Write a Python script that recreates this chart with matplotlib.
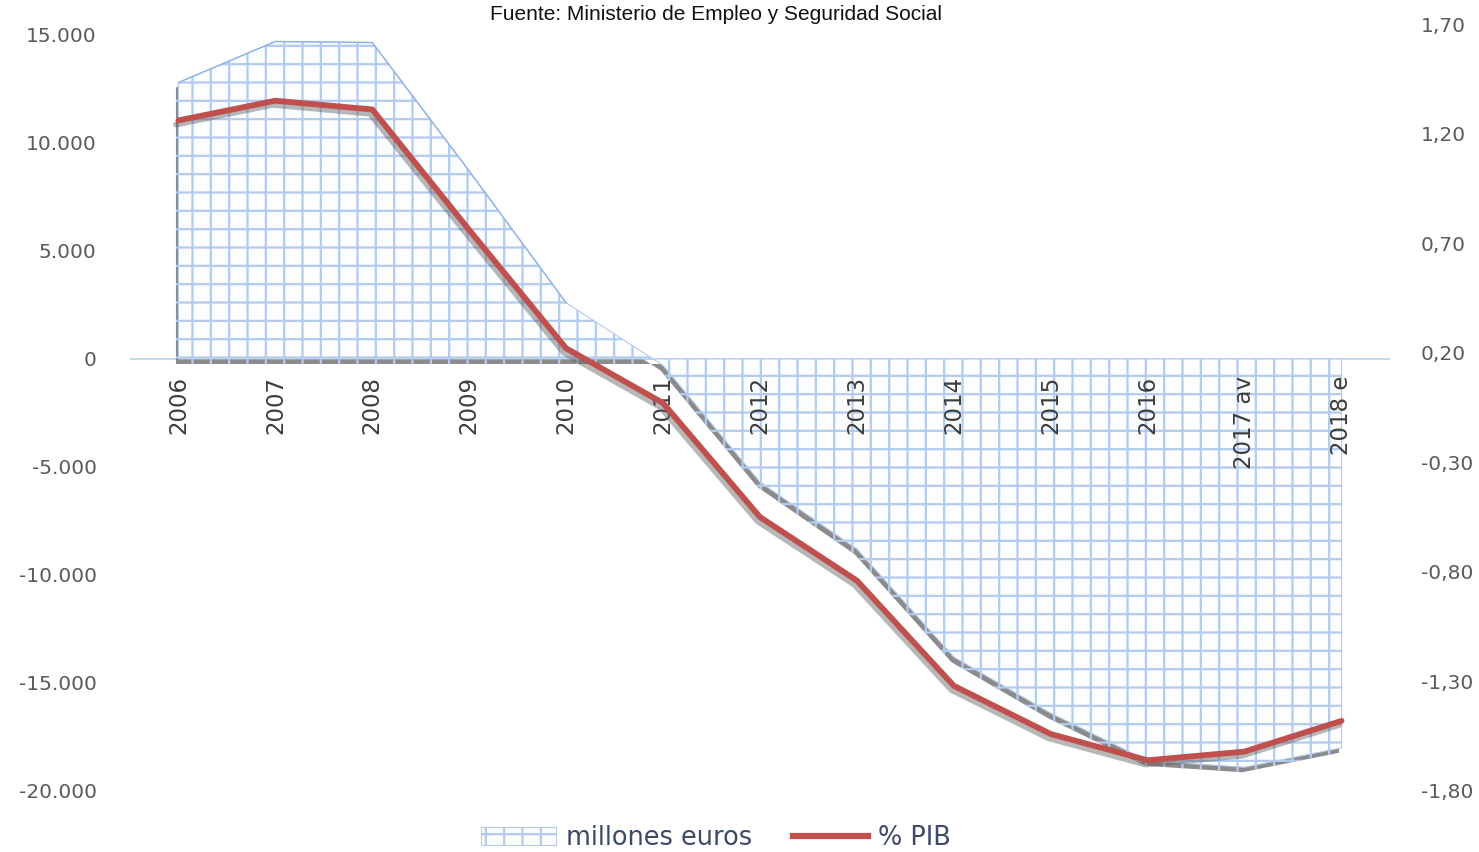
import numpy as np
import matplotlib
matplotlib.use("Agg")
import matplotlib.pyplot as plt
import matplotlib.patheffects as pe
from matplotlib.patches import Patch
from matplotlib.lines import Line2D
from matplotlib.ticker import FuncFormatter
from matplotlib.transforms import offset_copy

# ---------------- data ----------------
categories = ["2006", "2007", "2008", "2009", "2010", "2011", "2012",
              "2013", "2014", "2015", "2016", "2017 av", "2018 e"]
millones_euros = [12800, 14700, 14650, 8700, 2600, -300, -5700,
                  -8800, -13800, -16400, -18600, -18900, -18000]
pct_pib = [1.26, 1.35, 1.31, 0.76, 0.22, -0.03, -0.55,
           -0.84, -1.32, -1.54, -1.66, -1.62, -1.48]
left_ticks = [-20000, -15000, -10000, -5000, 0, 5000, 10000, 15000]
right_ticks = [-1.80, -1.30, -0.80, -0.30, 0.20, 0.70, 1.20, 1.70]
title_text = "Fuente: Ministerio de Empleo y Seguridad Social"
legend_labels = ["millones euros", "% PIB"]

# ---------------- style ----------------
DPI = 110
S = 100.0 / DPI          # keep sizes as if rendered at 100 dpi
plt.rcParams["font.family"] = ["DejaVu Sans"]
plt.rcParams["hatch.linewidth"] = 1.6 * S
hatch_col = "#b3cbee"
red = "#c0504d"
tick_col = "#5a5a5a"

W, H = 1479, 852
fig = plt.figure(figsize=(W / DPI, H / DPI), dpi=DPI)
ax = fig.add_axes([130 / W, 1 - 791 / H, (1390 - 130) / W, (791 - 24) / H])
ax2 = ax.twinx()

x = np.arange(len(categories))
y = np.array(millones_euros, dtype=float)

ax.axhline(0, color="#c2d4ee", lw=1.3 * S, zorder=0.5)

poly = ax.fill_between(x, 0, y, interpolate=True, facecolor="#fbfdff",
                       edgecolor=hatch_col, hatch="+", linewidth=0.8 * S, zorder=2)
poly.set_path_effects([pe.SimplePatchShadow(offset=(-1.8 * S, -3.6 * S),
                                            shadow_rgbFace="#5a5a5a", alpha=0.7),
                       pe.Normal()])
ax.plot(x[y >= 0], y[y >= 0], color="#8fb2e3", lw=1.0 * S, zorder=3)

ax.set_xlim(-0.5, len(categories) - 0.5)
ax.set_ylim(-20000, 15509)
ax.set_yticks(left_ticks)
ax.yaxis.set_major_formatter(FuncFormatter(lambda v, p: f"{int(round(v)):,}".replace(",", ".")))
ax.set_xticks([])

ax2.set_ylim(-1.80, 1.70)
ax2.set_yticks(right_ticks)
ax2.yaxis.set_major_formatter(FuncFormatter(lambda v, p: f"{v:.2f}".replace(".", ",")))
ax2.plot(x, pct_pib, color=red, lw=4.2 * S, solid_capstyle="round", zorder=5,
         path_effects=[pe.SimpleLineShadow(offset=(-1.8 * S, -3.0 * S), shadow_color="#606060",
                                           alpha=0.45),
                       pe.Normal()])

for a in (ax, ax2):
    for s in a.spines.values():
        s.set_visible(False)
    a.tick_params(axis="both", length=0, labelsize=14.5 * S, labelcolor=tick_col)
ax.tick_params(axis="y", pad=24 * S)
ax2.tick_params(axis="y", pad=22 * S)

# category labels just below the zero line
trans = offset_copy(ax.transData, fig=fig, x=0, y=-17, units="dots")
for xi, lab in zip(x, categories):
    ax.text(xi, 0, lab, rotation=90, ha="center", va="top", fontsize=16.5 * S,
            color="#3c3c3c", transform=trans, zorder=6)

fig.text(716 / W, 1 - 15 / H, title_text, ha="center", va="center",
         fontsize=15 * S, color="#111111",
         family=["Liberation Sans", "DejaVu Sans"])

handles = [Patch(facecolor="#fbfdff", edgecolor=hatch_col, hatch="+", linewidth=0.8 * S),
           Line2D([0], [0], color=red, lw=4.5 * S)]
leg = fig.legend(handles, legend_labels, loc="center", bbox_to_anchor=(716 / W, 1 - 838 / H),
                 ncol=2, frameon=False, fontsize=18.5 * S, handlelength=2.9,
                 handletextpad=0.4, columnspacing=1.6, labelcolor="#3d4a68")

fig.savefig("out.png", dpi=DPI)
